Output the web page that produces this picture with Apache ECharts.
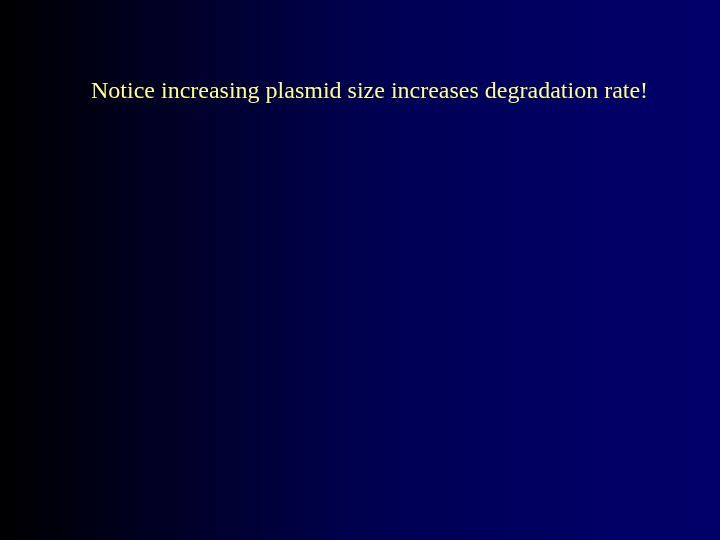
<!DOCTYPE html>
<html>
<head>
<meta charset="utf-8">
<title>Plasmid size note</title>
<script src="https://cdn.jsdelivr.net/npm/echarts@6/dist/echarts.min.js"></script>
<style>
	html, body { margin: 0; padding: 0; background: #000; }
	#main { width: 720px; height: 540px; }
</style>
</head>
<body>
<div id="main"></div>
<script>
// slide text
var headline = 'Notice increasing plasmid size increases degradation rate!';
// background gradient (left -> right)
var bgOffsets = [ 0, 0.5, 0.85, 1 ];
var bgColors = [ '#000000', '#000050', '#000066', '#000068' ];

var chart = echarts.init(document.getElementById('main'));

var stops = [];
for (var i = 0; i < bgOffsets.length; i++) {
	stops.push({
		offset : bgOffsets[i],
		color : bgColors[i]
	});
}

var option = {
	backgroundColor : new echarts.graphic.LinearGradient(0, 0, 1, 0, stops),
	title : {
		text : headline,
		left : 91,
		top : 80,
		padding : 0,
		textStyle : {
			fontFamily : 'Liberation Serif',
			fontWeight : 'normal',
			fontSize : 24,
			color : '#ffff8c',
			textShadowColor : '#000000',
			textShadowOffsetX : 1,
			textShadowOffsetY : 1,
			textShadowBlur : 0
		}
	},
	series : []
};

chart.setOption(option);
</script>
</body>
</html>
